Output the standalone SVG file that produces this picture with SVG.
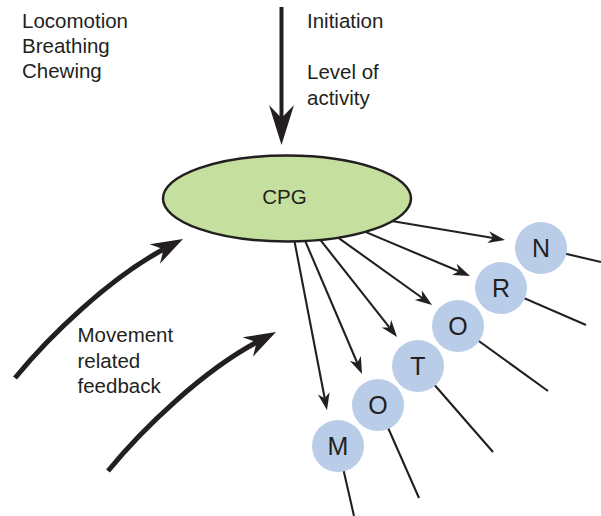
<svg xmlns="http://www.w3.org/2000/svg" width="601" height="516" viewBox="0 0 601 516">
  <style>
    text { font-family: "Liberation Sans", Arial, sans-serif; fill: #231f20; }
    .lbl { font-size: 20.5px; }
    .cpg { font-size: 20.5px; }
    .ltr { font-size: 25px; text-anchor: middle; }
    .thin { stroke: #231f20; stroke-width: 2.1; fill: none; }
    .thick { stroke: #231f20; stroke-width: 5; fill: none; }
    .node circle { fill: #b9cde8; }
  </style>
  <defs>
    <marker id="hs" markerUnits="userSpaceOnUse" orient="auto" overflow="visible" markerWidth="1" markerHeight="1">
      <path d="M12,0 L-5,-6 L0,0 L-5,6 Z" fill="#231f20"/>
    </marker>
    <marker id="hl" markerUnits="userSpaceOnUse" orient="auto" overflow="visible" markerWidth="1" markerHeight="1">
      <path d="M22,0 L-10,-11 L0,0 L-10,11 Z" fill="#231f20"/>
    </marker>
    <marker id="hd" markerUnits="userSpaceOnUse" orient="auto" overflow="visible" markerWidth="1" markerHeight="1">
      <path d="M27,0 L-13,-12.5 L0,0 L-13,12.5 Z" fill="#231f20"/>
    </marker>
  </defs>

  <!-- labels -->
  <g id="labels">
    <text class="lbl" x="22" y="27.5">Locomotion</text>
    <text class="lbl" x="22" y="52.5">Breathing</text>
    <text class="lbl" x="22" y="77.5">Chewing</text>
    <text class="lbl" x="307" y="28">Initiation</text>
    <text class="lbl" x="307" y="79">Level of</text>
    <text class="lbl" x="307" y="104.5">activity</text>
    <text class="lbl" x="77.5" y="342.3">Movement</text>
    <text class="lbl" x="77.5" y="367.5">related</text>
    <text class="lbl" x="77.5" y="392.5">feedback</text>
  </g>

  <!-- connectors -->
  <g id="connectors">
    <line class="thick" style="stroke-width:4" x1="281.5" y1="7" x2="281.5" y2="118" marker-end="url(#hd)"/>
    <path class="thick" d="M15,378 C50,335 110,278 163.6,249.3" marker-end="url(#hl)"/>
    <path class="thick" d="M108,471 C143,428 203,371 256.6,342.3" marker-end="url(#hl)"/>

    <line class="thin" x1="390.1" y1="220.7" x2="493.2" y2="238" marker-end="url(#hs)"/>
    <line class="thin" x1="360.6" y1="229.9" x2="459" y2="271.3" marker-end="url(#hs)"/>
    <line class="thin" x1="333.5" y1="234.3" x2="422.3" y2="298" marker-end="url(#hs)"/>
    <line class="thin" x1="317" y1="235.7" x2="389.6" y2="327.6" marker-end="url(#hs)"/>
    <line class="thin" x1="302.9" y1="235.6" x2="357.3" y2="363" marker-end="url(#hs)"/>
    <line class="thin" x1="293.5" y1="236.1" x2="324.7" y2="398.2" marker-end="url(#hs)"/>

    <line class="thin" x1="541" y1="248" x2="601" y2="262"/>
    <line class="thin" x1="501" y1="288" x2="586" y2="325"/>
    <line class="thin" x1="458" y1="326" x2="548" y2="391"/>
    <line class="thin" x1="418" y1="366" x2="493" y2="452"/>
    <line class="thin" x1="378" y1="405" x2="419" y2="498"/>
    <line class="thin" x1="338" y1="446" x2="354" y2="516"/>
  </g>

  <!-- central pattern generator -->
  <g id="cpg">
    <ellipse cx="287" cy="198.5" rx="124" ry="43" fill="#c5df9e" stroke="#231f20" stroke-width="2.5"/>
    <text class="cpg" x="284.5" y="203.5" text-anchor="middle">CPG</text>
  </g>

  <!-- motor neuron pools -->
  <g id="n-N" class="node"><circle cx="541" cy="248" r="26"/><text class="ltr" x="541" y="257">N</text></g>
  <g id="n-R" class="node"><circle cx="501" cy="288" r="26"/><text class="ltr" x="501" y="297">R</text></g>
  <g id="n-O1" class="node"><circle cx="458" cy="326" r="26"/><text class="ltr" x="458" y="335">O</text></g>
  <g id="n-T" class="node"><circle cx="418" cy="366" r="26"/><text class="ltr" x="418" y="375">T</text></g>
  <g id="n-O2" class="node"><circle cx="378" cy="405" r="26"/><text class="ltr" x="378" y="414">O</text></g>
  <g id="n-M" class="node"><circle cx="338" cy="446" r="26"/><text class="ltr" x="338" y="455">M</text></g>
</svg>
